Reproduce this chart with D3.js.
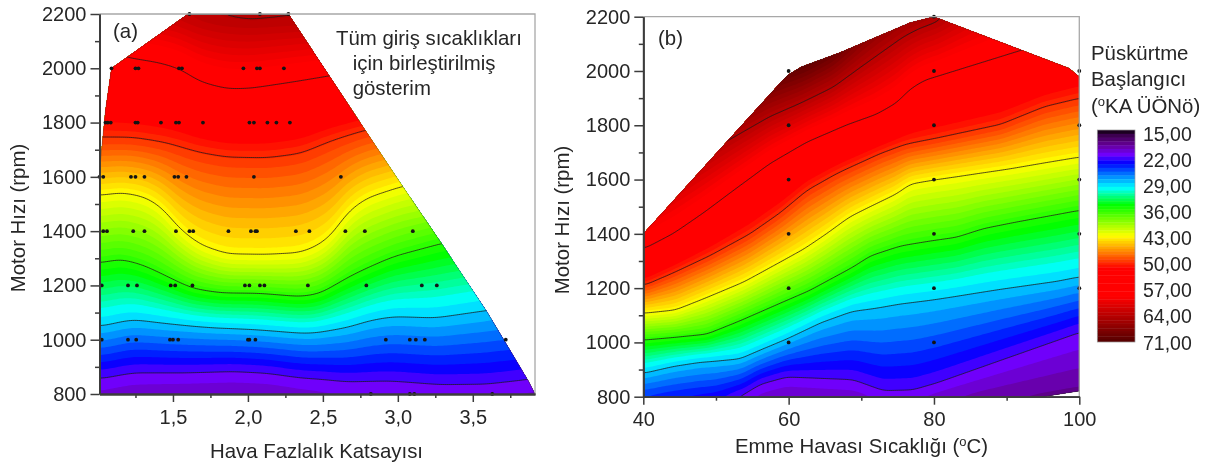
<!DOCTYPE html>
<html>
<head>
<meta charset="utf-8">
<script src="https://cdn.jsdelivr.net/npm/d3@7"></script>
<style>
  html, body { margin: 0; background: #fff; }
  svg { display: block; filter: blur(0.4px); }
  text { font-family: "Liberation Sans", Arial, sans-serif; fill: #262626; }
</style>
</head>
<body>
<script>
// contour levels that get a black line
const levels = [22, 29, 36, 43, 50, 57, 64];
// the z field also uses a lower level, it has no line of its own
const fieldLevels = [18, 22, 29, 36, 43, 50, 57, 64];

// panel (a) iso lines, [lambda, rpm]
const a18 = [[1.01, 680], [1.5, 700], [2.13, 700], [2.5, 680], [3.3, 670], [3.92, 690]];
const a22 = [[1.01, 861], [1.23, 884], [1.57, 884], [1.9, 891], [2.13, 884], [2.35, 866], [2.48, 861], [2.66, 849], [2.95, 851], [3.28, 837], [3.59, 837], [3.85, 853], [3.92, 860]];
const a29 = [[1.01, 1046], [1.23, 1073], [1.45, 1060], [1.76, 1046], [2.03, 1039], [2.35, 1026], [2.44, 1026], [2.66, 1046], [2.82, 1073], [2.97, 1086], [3.25, 1079], [3.59, 1107], [3.92, 1130]];
const a36 = [[1.01, 1281], [1.15, 1297], [1.3, 1273], [1.46, 1231], [1.63, 1187], [1.81, 1172], [2.08, 1171], [2.35, 1157], [2.48, 1168], [2.63, 1217], [2.79, 1260], [2.97, 1305], [3.29, 1356], [3.92, 1420]];
const a43 = [[1.01, 1533], [1.16, 1545], [1.32, 1527], [1.43, 1485], [1.54, 1404], [1.68, 1342], [1.86, 1306], [2.12, 1304], [2.35, 1312], [2.48, 1342], [2.58, 1389], [2.66, 1466], [2.79, 1522], [3.03, 1566], [3.92, 1650]];
const a50 = [[1.01, 1742], [1.235, 1742], [1.46, 1724], [1.68, 1693], [1.86, 1677], [2.13, 1674], [2.35, 1690], [2.55, 1736], [2.78, 1773], [3.92, 1900]];
const a57 = [[1.01, 2080], [1.2, 2043], [1.41, 2024], [1.55, 2000], [1.68, 1951], [1.86, 1924], [2.01, 1926], [2.23, 1945], [2.52, 1971], [3.92, 2100]];
const a64 = [[1.01, 2270], [1.5, 2230], [1.68, 2200], [1.81, 2185], [2.01, 2175], [2.23, 2181], [2.6, 2190], [3.92, 2300]];

// panel (b) iso lines, [temperature, rpm]
const b18 = [[40, 600], [53, 680], [60, 720], [73, 700], [80, 715], [100, 770]];
const b22 = [[40, 740], [50, 770], [54, 815], [56, 850], [59.7, 877], [64, 870], [68.9, 863], [73, 820], [77.1, 822], [80.4, 849], [89.1, 935], [100, 1042]];
const b29 = [[40, 887], [44.1, 914], [47.8, 930], [53.3, 939], [59.7, 1012], [64.3, 1074], [68.7, 1117], [71.7, 1127], [75.3, 1144], [79.9, 1159], [89.1, 1196], [96.9, 1224], [100, 1240]];
const b36 = [[40, 1010], [48.7, 1028], [53.3, 1080], [59.7, 1154], [62.9, 1190], [68.9, 1277], [71.2, 1319], [75.3, 1355], [79.9, 1375], [83.1, 1387], [86.8, 1420], [91.4, 1445], [100, 1488]];
const b43 = [[40, 1107], [44.4, 1117], [53.8, 1221], [62.2, 1344], [65.2, 1399], [68.4, 1463], [71.2, 1500], [74.9, 1549], [76.7, 1586], [80, 1601], [90.6, 1641], [100, 1682]];
const b50 = [[40, 1207], [44.1, 1256], [49.2, 1319], [54.7, 1399], [58.8, 1476], [62.5, 1561], [66.6, 1623], [72.6, 1697], [75.8, 1727], [80, 1748], [89.2, 1801], [95.2, 1868], [100, 1899]];
const b57 = [[40, 1340], [44.2, 1399], [48.3, 1476], [52.8, 1568], [57.4, 1660], [62.5, 1739], [68, 1801], [72.1, 1838], [74.9, 1881], [76.7, 1933], [78.7, 1967], [92, 2075], [100, 2140]];
const b64 = [[40, 1560], [52.2, 1752], [57.4, 1832], [61.6, 1881], [66.1, 1940], [70.3, 2022], [75.8, 2126], [78, 2157], [80.5, 2181], [90, 2350], [100, 2450]];

// outline of the measured region
const aHull = [[1.01, 800], [1.01, 1625], [1.03, 1735], [1.05, 1846], [1.09, 2000], [1.2, 2043], [1.6, 2200], [2.27, 2200], [2.79, 1766], [3.035, 1563], [3.29, 1356], [3.59, 1107], [3.87, 849], [3.915, 800]];
const bHull = [[40, 800], [40, 1400], [58.3, 1940], [59.9, 1985], [61.8, 2016], [67, 2067], [76.7, 2178], [80, 2200], [98.6, 2010], [100, 1979], [100, 821], [95, 800]];

// measured points of panel (a), one list per speed
const aRpm = [2200, 2000, 1800, 1600, 1400, 1200, 1000, 800];
const aPts = [
  [1.61, 2.08, 2.27],
  [1.09, 1.25, 1.27, 1.54, 1.56, 1.97, 2.06, 2.08, 2.24],
  [1.05, 1.065, 1.085, 1.25, 1.265, 1.42, 1.52, 1.54, 1.7, 2.01, 2.04, 2.13, 2.19, 2.28],
  [1.01, 1.035, 1.22, 1.25, 1.31, 1.51, 1.535, 1.59, 2.04, 2.62],
  [1.035, 1.06, 1.235, 1.31, 1.52, 1.61, 1.635, 1.87, 2.02, 2.05, 2.06, 2.32, 2.41, 2.65, 2.78, 3.1],
  [1.025, 1.2, 1.26, 1.485, 1.515, 1.63, 1.98, 2.01, 2.08, 2.11, 2.4, 2.79, 3.16, 3.26],
  [1.025, 1.2, 1.255, 1.48, 1.5, 1.535, 2, 2.01, 2.05, 2.92, 3.08, 3.12, 3.18, 3.72],
  [2.82, 3.08, 3.11, 3.63],
];

// measured points of panel (b)
const bTemps = [60, 80, 100];
const bPts = [
  [1000, 1200, 1400, 1600, 1800, 2000],
  [1000, 1200, 1400, 1600, 1800, 2000, 2200],
  [1200, 1400, 1600, 1800, 2000],
];

// ticks
const rpmTicks = [800, 1000, 1200, 1400, 1600, 1800, 2000, 2200];
const rpmMinor = [900, 1100, 1300, 1500, 1700, 1900, 2100];
const aXTicks = [1.5, 2, 2.5, 3, 3.5];
const aXMinor = [1.25, 1.75, 2.25, 2.75, 3.25, 3.75];
const bXTicks = [40, 60, 80, 100];
const bXMinor = [50, 70, 90];
const legendTicks = [15, 22, 29, 36, 43, 50, 57, 64, 71];

// colour map
const colorValues = [15, 16.5, 19, 21.6, 23.7, 27, 30.3, 34.8, 43, 46.5, 51.5, 59, 70.5];
const colorNames = ['#0a000a', '#3c0050', '#660099', '#7000ff', '#0000ff', '#0080ff', '#00ffff', '#00ff00', '#ffff00', '#ff9900', '#ff0000', '#ff0000', '#5a0000'];

const color = d3.scaleLinear().domain(colorValues).range(colorNames).clamp(true);

// band edges: coarser steps in the blues, finer above where the picture looks smooth
const edges = d3.range(15, 31, 1).concat(d3.range(31, 71.01, 0.7));
const bands = edges.slice(0, -1).map((t, i) => ({ t, mid: (t + edges[i + 1]) / 2, next: edges[i + 1] }));

const locale = d3.formatLocale({
  decimal: ',', thousands: '.', grouping: [3], currency: ['', ''],
});
const fmt1 = locale.format('.1f');
const fmt2 = locale.format('.2f');

const svg = d3.select('body').append('svg')
  .attr('width', 1211)
  .attr('height', 468);

// builds z on a fine grid from the iso lines, then contours + lines + points
function drawPanel(opts) {
  const {
    id, left, right, top, bottom, xDomain, isos, hull, blur,
  } = opts;
  const x = d3.scaleLinear().domain(xDomain).range([left, right]);
  const y = d3.scaleLinear().domain([800, 2200]).range([bottom, top]);

  const pitch = 2;
  const nx = Math.ceil((right - left) / pitch) + 1;
  const ny = Math.ceil((bottom - top) / pitch) + 1;
  const lines = isos.map(iso => d3.scaleLinear()
    .domain(iso.map(d => d[0]))
    .range(iso.map(d => d[1])));

  const data = new Float64Array(nx * ny);
  for (let i = 0; i < nx; i += 1) {
    const xv = x.invert(left + (i + 0.5) * pitch);
    const column = d3.scaleLinear()
      .domain(lines.map(l => l(xv)))
      .range(fieldLevels);
    for (let j = 0; j < ny; j += 1) {
      data[j * nx + i] = column(y.invert(top + (j + 0.5) * pitch));
    }
  }
  d3.blur2({ data, width: nx, height: ny }, blur);

  const contours = d3.contours().size([nx, ny]);
  const toPx = d3.geoTransform({
    point(px, py) {
      this.stream.point(left + px * pitch, top + py * pitch);
    },
  });
  const path = d3.geoPath(toPx);

  svg.append('clipPath')
    .attr('id', `hull-${id}`)
    .append('path')
    .attr('d', d3.line().x(d => x(d[0])).y(d => y(d[1]))(hull) + 'Z');

  const g = svg.append('g').attr('clip-path', `url(#hull-${id})`);

  g.append('rect')
    .attr('x', left)
    .attr('y', top)
    .attr('width', right - left)
    .attr('height', bottom - top)
    .attr('fill', color(15));

  g.selectAll('path.band')
    .data(bands)
    .join('path')
    .attr('class', 'band')
    .attr('d', b => path(contours.contour(data, b.t)))
    .attr('fill', b => color(b.mid));

  g.selectAll('path.iso')
    .data(levels)
    .join('path')
    .attr('class', 'iso')
    .attr('d', t => path(contours.contour(data, t)))
    .attr('fill', 'none')
    .attr('stroke', '#1a1a1a')
    .attr('stroke-opacity', 0.85)
    .attr('stroke-width', 0.9);

  // thin dark rim along the cut edge
  svg.append('path')
    .attr('d', d3.line().x(d => x(d[0])).y(d => y(d[1]))(hull))
    .attr('fill', 'none')
    .attr('stroke', '#333')
    .attr('stroke-opacity', 0.45)
    .attr('stroke-width', 0.7);

  return { x, y };
}

function drawAxes(x, y, xTicks, xMinor, xFormat, xPad) {
  const [left, right] = x.range();
  const [bottom, top] = y.range();

  // plain grey frame on top and right
  svg.append('path')
    .attr('d', `M${left},${top}H${right}V${bottom}`)
    .attr('fill', 'none')
    .attr('stroke', '#a8a8a8')
    .attr('stroke-width', 1.3);

  const yAxis = svg.append('g')
    .attr('transform', `translate(${left},0)`)
    .call(d3.axisLeft(y).tickValues(rpmTicks).tickSize(9).tickSizeOuter(0)
      .tickPadding(4).tickFormat(d3.format('d')));
  svg.append('g')
    .attr('transform', `translate(${left},0)`)
    .call(d3.axisLeft(y).tickValues(rpmMinor).tickSize(4.5).tickFormat('').tickSizeOuter(0));
  const xAxis = svg.append('g')
    .attr('transform', `translate(0,${bottom})`)
    .call(d3.axisBottom(x).tickValues(xTicks).tickSize(8).tickSizeOuter(0)
      .tickPadding(xPad).tickFormat(xFormat));
  svg.append('g')
    .attr('transform', `translate(0,${bottom})`)
    .call(d3.axisBottom(x).tickValues(xMinor).tickSize(4).tickFormat('').tickSizeOuter(0));

  [yAxis, xAxis].forEach((a) => {
    a.selectAll('text').style('font-size', '20px');
  });
  svg.selectAll('.domain').attr('stroke', '#3c3c3c').attr('stroke-width', 1.8);
  svg.selectAll('.tick line').attr('stroke', '#3c3c3c').attr('stroke-width', 1.5);
}

function addText(str, px, py, anchor, size) {
  return svg.append('text')
    .attr('x', px)
    .attr('y', py)
    .attr('text-anchor', anchor || 'start')
    .style('font-size', `${size || 20.4}px`)
    .text(str);
}

function addSupText(before, after, px, py, anchor) {
  const t = svg.append('text')
    .attr('x', px)
    .attr('y', py)
    .attr('text-anchor', anchor)
    .style('font-size', '20.4px');
  t.append('tspan').text(before);
  t.append('tspan').attr('dy', -7).style('font-size', '13px').text('o');
  t.append('tspan').attr('dy', 7).text(after);
}

function addYTitle(px, py) {
  svg.append('text')
    .attr('transform', `translate(${px},${py}) rotate(-90)`)
    .attr('text-anchor', 'middle')
    .style('font-size', '20.4px')
    .text('Motor Hızı (rpm)');
}

// panel (a)
const panelA = drawPanel({
  id: 'a',
  left: 99.5,
  right: 535,
  top: 14,
  bottom: 394,
  xDomain: [1.01, 3.915],
  isos: [a18, a22, a29, a36, a43, a50, a57, a64],
  hull: aHull,
  blur: 3,
});
const pointsA = aRpm.flatMap((rpm, i) => aPts[i].map(v => [v, rpm]));
svg.append('g').selectAll('circle')
  .data(pointsA)
  .join('circle')
  .attr('cx', d => panelA.x(d[0]))
  .attr('cy', d => panelA.y(d[1]))
  .attr('r', 1.9)
  .attr('fill', '#141414');
drawAxes(panelA.x, panelA.y, aXTicks, aXMinor, fmt1, 8);

// panel (b)
const panelB = drawPanel({
  id: 'b',
  left: 643.3,
  right: 1079.3,
  top: 16.7,
  bottom: 396.7,
  xDomain: [40, 100],
  isos: [b18, b22, b29, b36, b43, b50, b57, b64],
  hull: bHull,
  blur: 1.5,
});
const pointsB = bTemps.flatMap((t, i) => bPts[i].map(rpm => [t, rpm]));
svg.append('g').selectAll('circle')
  .data(pointsB)
  .join('circle')
  .attr('cx', d => panelB.x(d[0]))
  .attr('cy', d => panelB.y(d[1]))
  .attr('r', 1.9)
  .attr('fill', '#141414');
drawAxes(panelB.x, panelB.y, bXTicks, bXMinor, d3.format('d'), 7);

// titles and notes
addText('Hava Fazlalık Katsayısı', 316.5, 458, 'middle');
addSupText('Emme Havası Sıcaklığı (', 'C)', 861.5, 453, 'middle');
addYTitle(25, 218);
addYTitle(569, 220);
addText('(a)', 113, 38);
addText('(b)', 658, 45);
addText('Tüm giriş sıcaklıkları', 336, 45);
addText('için birleştirilmiş', 352.7, 70);
addText('gösterim', 352.7, 95);

// legend
addText('Püskürtme', 1091, 60);
addText('Başlangıcı', 1091, 86);
addSupText('(', 'KA ÜÖNö)', 1091, 113, 'start');

const legendY = d3.scaleLinear().domain([15, 71]).range([130, 342]);
const legendLabelY = d3.scaleLinear().domain([15, 71]).range([134, 342.7]);
svg.append('g').selectAll('rect')
  .data(bands)
  .join('rect')
  .attr('x', 1097.3)
  .attr('width', 37.7)
  .attr('y', b => legendY(b.t))
  .attr('height', b => legendY(b.next) - legendY(b.t) + 0.4)
  .attr('fill', b => color(b.mid));
svg.append('rect')
  .attr('x', 1097.3)
  .attr('y', 130)
  .attr('width', 37.7)
  .attr('height', 212)
  .attr('fill', 'none')
  .attr('stroke', '#999')
  .attr('stroke-width', 0.7);
svg.append('g').selectAll('text')
  .data(legendTicks)
  .join('text')
  .attr('x', 1143)
  .attr('y', d => legendLabelY(d))
  .attr('dy', '0.35em')
  .style('font-size', '19.5px')
  .text(d => fmt2(d));
</script>
</body>
</html>
